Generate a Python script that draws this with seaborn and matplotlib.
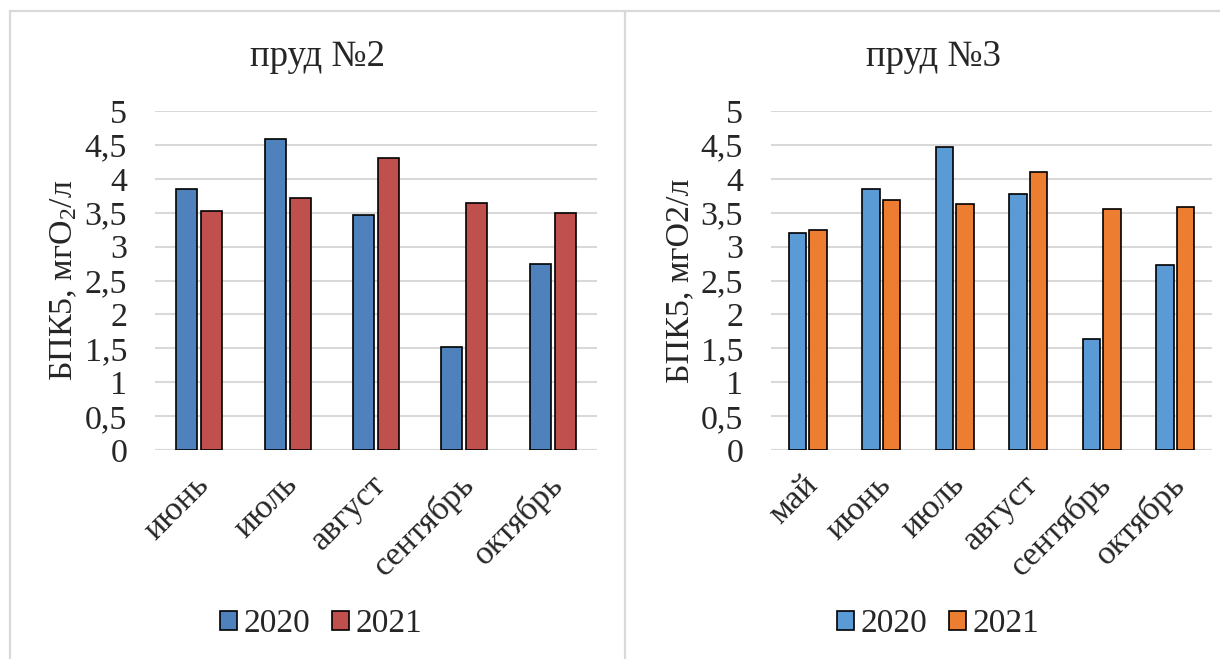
import matplotlib
matplotlib.use("Agg")
import matplotlib.pyplot as plt
import matplotlib.transforms as mtransforms
from matplotlib.lines import Line2D
from matplotlib.patches import Patch
import seaborn as sns
import pandas as pd

# Pond No. 2
months_p2 = ["июнь", "июль", "август", "сентябрь", "октябрь"]
bod_p2_2020 = [3.85, 4.58, 3.47, 1.52, 2.74]
bod_p2_2021 = [3.52, 3.71, 4.30, 3.64, 3.50]

# Pond No. 3
months_p3 = ["май", "июнь", "июль", "август", "сентябрь", "октябрь"]
bod_p3_2020 = [3.20, 3.85, 4.47, 3.77, 1.63, 2.73]
bod_p3_2021 = [3.24, 3.69, 3.63, 4.10, 3.56, 3.59]

years = ["2020", "2021"]
y_ticks = [0, 0.5, 1, 1.5, 2, 2.5, 3, 3.5, 4, 4.5, 5]
y_tick_labels = ["0", "0,5", "1", "1,5", "2", "2,5", "3", "3,5", "4", "4,5", "5"]

sns.set_theme(style="white")
plt.rcParams["font.family"] = ["Liberation Serif", "DejaVu Serif"]
plt.rcParams["mathtext.default"] = "regular"

FS = 24.5
GRID = "#D9D9D9"

fig = plt.figure(figsize=(12.2, 6.59), dpi=100)
W, H = 1220, 659


def frac_box(x0, x1, ytop, ybot):
    return [x0 / W, 1 - ybot / H, (x1 - x0) / W, (ybot - ytop) / H]


def long_frame(months, v2020, v2021):
    return pd.DataFrame({
        "month": months * 2,
        "year": [years[0]] * len(months) + [years[1]] * len(months),
        "value": list(v2020) + list(v2021),
    })


def draw_panel(ax, months, v2020, v2021, colors, ylabel):
    df = long_frame(months, v2020, v2021)
    sns.barplot(data=df, x="month", y="value", hue="year", order=months,
                hue_order=years, palette=colors, saturation=1,
                width=0.566, gap=0.16, edgecolor="black", linewidth=1.2,
                legend=False, ax=ax, zorder=3)
    ax.set_ylim(0, 5)
    ax.set_xlim(-0.5, len(months) - 0.5)
    ax.set_yticks(y_ticks)
    ax.set_yticklabels(y_tick_labels, fontsize=FS)
    ax.yaxis.grid(True, color=GRID, linewidth=1.5, zorder=0)
    ax.set_axisbelow(True)
    for s in ["top", "right", "left", "bottom"]:
        ax.spines[s].set_visible(False)
    ax.axhline(0, color=GRID, linewidth=1.5, zorder=1)
    ax.tick_params(axis="y", length=0, pad=20, labelsize=FS)
    ax.tick_params(axis="x", length=0, pad=14, labelsize=FS)
    ax.set_xticks(range(len(months)))
    ax.set_xticklabels(months, rotation=45, ha="right",
                       rotation_mode="anchor", va="center")
    # nudge the slanted month labels a little right and down
    shift = mtransforms.ScaledTranslation(5 / 100, -11 / 100,
                                          fig.dpi_scale_trans)
    for lbl in ax.get_xticklabels():
        lbl.set_transform(lbl.get_transform() + shift)
    ax.set_xlabel("")
    ax.set_ylabel(ylabel, fontsize=FS)


ax1 = fig.add_axes(frac_box(155, 597, 111, 450))
draw_panel(ax1, months_p2, bod_p2_2020, bod_p2_2021,
           ["#4F81BD", "#C0504D"], "БПК5, мгО$_2$/л")
ax1.yaxis.set_label_coords(-0.172, 0.5)

ax2 = fig.add_axes(frac_box(771, 1212, 111, 450))
draw_panel(ax2, months_p3, bod_p3_2020, bod_p3_2021,
           ["#5B9BD5", "#ED7D31"], "БПК5, мгО2/л")
ax2.yaxis.set_label_coords(-0.172, 0.5)

# chart titles, centred on each chart area
fig.text(317 / W, 1 - 57 / H, "пруд №2", ha="center", va="center",
         fontsize=26.5)
fig.text(933 / W, 1 - 57 / H, "пруд №3", ha="center", va="center",
         fontsize=26.5)

# legends below each chart
for center_x, cols in [(321, ["#4F81BD", "#C0504D"]),
                       (938, ["#5B9BD5", "#ED7D31"])]:
    handles = [Patch(facecolor=c, edgecolor="black", linewidth=1.2)
               for c in cols]
    fig.legend(handles, years, loc="center",
               bbox_to_anchor=(center_x / W, 1 - 624 / H), ncol=2,
               frameon=False, fontsize=24, handlelength=0.5,
               handleheight=0.5, handletextpad=0.2, columnspacing=0.65,
               borderpad=0, borderaxespad=0)

# chart-area borders
border_kw = dict(color=GRID, linewidth=1.6, transform=fig.transFigure)
fig.add_artist(Line2D([9.5 / W, 1], [1 - 11 / H, 1 - 11 / H], **border_kw))
fig.add_artist(Line2D([9.5 / W, 9.5 / W], [0, 1 - 11 / H], **border_kw))
fig.add_artist(Line2D([625.5 / W, 625.5 / W], [0, 1 - 11 / H], **border_kw))

fig.savefig("out.png", dpi=100, facecolor="white")
